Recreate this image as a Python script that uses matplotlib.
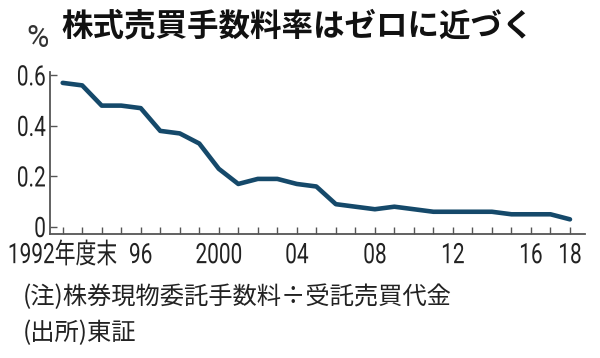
import matplotlib
matplotlib.use("Agg")
import matplotlib.pyplot as plt
from matplotlib import font_manager
from matplotlib.patheffects import AbstractPathEffect
from matplotlib.transforms import Affine2D
from matplotlib.ticker import FixedLocator, MultipleLocator

# data (fiscal year end, %)
years = list(range(1992, 2019))
rate = [0.57, 0.56, 0.48, 0.48, 0.47, 0.38, 0.37, 0.33, 0.23, 0.17,
        0.19, 0.19, 0.17, 0.16, 0.09, 0.08, 0.07, 0.08, 0.07, 0.06,
        0.06, 0.06, 0.06, 0.05, 0.05, 0.05, 0.03]

xtick_pos = [1992, 1996, 2000, 2004, 2008, 2012, 2016, 2018]
xtick_lab = ["1992年度末", "96", "2000", "04", "08", "12", "16", "18"]
ytick_pos = [0, 0.2, 0.4, 0.6]
ytick_lab = ["0", "0.2", "0.4", "0.6"]

title = "株式売買手数料率はゼロに近づく"
note = "(注)株券現物委託手数料÷受託売買代金"
source = "(出所)東証"


class Stretch(AbstractPathEffect):
    # tall, narrow-looking numerals: stretch glyphs up from the baseline
    def __init__(self, sy=1.2, dy=0.0):
        super().__init__()
        self.sy = sy
        self.dy = dy

    def draw_path(self, renderer, gc, tpath, affine, rgbFace=None):
        t = Affine2D().scale(1, self.sy) + affine + Affine2D().translate(0, self.dy)
        renderer.draw_path(gc, tpath, t, rgbFace)


names = {f.name for f in font_manager.fontManager.ttflist}
if "Liberation Sans Narrow" in names:
    num_font = ["Liberation Sans Narrow", "Noto Sans CJK JP"]
    num_size, sy = 19, 1.0
else:
    num_font = ["Roboto", "Noto Sans CJK JP"]
    num_size, sy = 15, 1.35
jp_font = ["Noto Sans CJK JP", "DejaVu Sans"]

fig = plt.figure(figsize=(6, 3.58), dpi=100)
ax = fig.add_axes([50 / 600, 1 - 234 / 358, 535 / 600, 162 / 358])

ax.plot(years, rate, color="#15496a", lw=3.3, solid_joinstyle="round",
        solid_capstyle="round")

ax.set_xlim(1991.35, 2018.77)
ax.set_ylim(-0.028, 0.613)

for s in ["top", "right"]:
    ax.spines[s].set_visible(False)
for s in ["left", "bottom"]:
    ax.spines[s].set_color("#555555")
    ax.spines[s].set_linewidth(1.3)

ax.xaxis.set_major_locator(FixedLocator(xtick_pos))
ax.xaxis.set_minor_locator(MultipleLocator(1))
ax.set_xticklabels(xtick_lab, family=num_font, fontsize=num_size, color="#222222")
ax.set_yticks(ytick_pos)
ax.set_yticklabels(ytick_lab, family=num_font, fontsize=num_size, color="#222222")
for t in ax.get_xticklabels():
    t.set_va("baseline")
    t.set_path_effects([Stretch(sy)])
for t in ax.get_yticklabels():
    t.set_path_effects([Stretch(sy, dy=-2.6)])

ax.tick_params(axis="x", which="both", direction="in", length=5, width=1,
               color="#555555", pad=21)
ax.tick_params(axis="y", which="major", direction="in", length=5, width=1,
               color="#555555", pad=3)

fig.text(26 / 600, 1 - 38.5 / 358, "%", family=num_font, fontsize=22,
         va="center", ha="left", color="#333333")
fig.text(61 / 600, 1 - 27 / 358, title, family=jp_font, fontsize=22.7,
         fontweight="bold", va="center", ha="left", color="#111111")
fig.text(23 / 600, 1 - 297 / 358, note, family=jp_font, fontsize=17.5,
         va="center", ha="left", color="#222222")
fig.text(23 / 600, 1 - 333 / 358, source, family=jp_font, fontsize=17.5,
         va="center", ha="left", color="#222222")

fig.savefig("out.png", dpi=100)
